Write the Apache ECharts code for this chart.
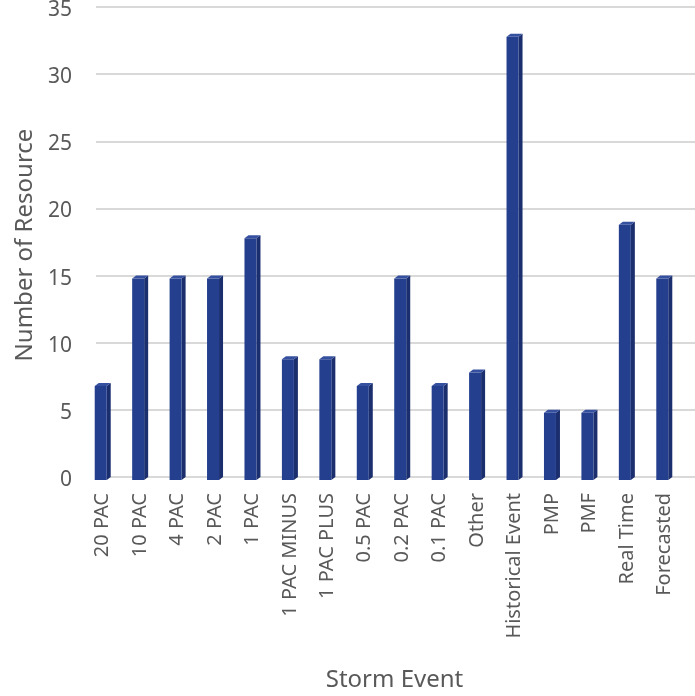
<!DOCTYPE html>
<html>
<head>
<meta charset="utf-8">
<script src="https://cdn.jsdelivr.net/npm/echarts@6/dist/echarts.min.js"></script>
<style>
  html, body { margin: 0; padding: 0; background: #ffffff; }
  #chart { width: 695px; height: 696px; }
</style>
</head>
<body>
<div id="chart"></div>
<script>
// Storm event categories and resource counts
const categories = ['20 PAC', '10 PAC', '4 PAC', '2 PAC', '1 PAC', '1 PAC MINUS', '1 PAC PLUS',
  '0.5 PAC', '0.2 PAC', '0.1 PAC', 'Other', 'Historical Event', 'PMP', 'PMF', 'Real Time', 'Forecasted'];
const resourceCounts = [7, 15, 15, 15, 18, 9, 9, 7, 15, 7, 8, 33, 5, 5, 19, 15];
const yTicks = { min: 0, max: 35, interval: 5 };

const FONT = '"Noto Sans", "Open Sans", sans-serif';
const TEXT = '#595959';

// Prism-like bar: front face, darker side face, lighter top face
function renderPrism(params, api) {
  const top = api.coord([api.value(0), api.value(1)]);
  const base = api.coord([api.value(0), 0]);
  const cx = top[0];
  const x0 = cx - 8, x1 = cx + 4;
  const d = 4, dy = 3;
  return {
    type: 'group',
    children: [
      {
        type: 'polygon',
        shape: { points: [[x1, top[1]], [x1 + d, top[1] - dy], [x1 + d, base[1] - dy], [x1, base[1]]] },
        style: { fill: '#1b2e6e' }
      },
      {
        type: 'rect',
        shape: { x: x0, y: top[1], width: x1 - x0, height: base[1] - top[1] },
        style: { fill: '#253f8f' }
      },
      {
        type: 'polygon',
        shape: { points: [[x0, top[1]], [x0 + d, top[1] - dy], [x1 + d, top[1] - dy], [x1, top[1]]] },
        style: { fill: '#3650a0' }
      }
    ]
  };
}

const chart = echarts.init(document.getElementById('chart'), null, { renderer: 'canvas' });
chart.setOption({
  animation: false,
  backgroundColor: '#ffffff',
  grid: [
    // front plane: bars, category labels and value labels
    { left: 84, right: 12, top: 10, bottom: 216, containLabel: false, outerBoundsMode: 'none' },
    // back wall: gridlines, set slightly up and to the right for depth
    { left: 96, right: 0, top: 7, bottom: 219, containLabel: false, outerBoundsMode: 'none' }
  ],
  xAxis: [
    {
      type: 'category',
      gridIndex: 0,
      data: categories,
      boundaryGap: true,
      axisLine: { show: false },
      axisTick: { show: false },
      axisLabel: { rotate: 90, margin: 13, color: TEXT, fontSize: 20, fontFamily: FONT, interval: 0 },
      name: 'Storm Event',
      nameLocation: 'middle',
      nameGap: 188,
      nameTextStyle: { color: TEXT, fontSize: 24, fontFamily: FONT, padding: [0, 0, 0, 22] }
    },
    {
      type: 'category',
      gridIndex: 1,
      data: categories,
      show: false
    }
  ],
  yAxis: [
    {
      type: 'value',
      gridIndex: 0,
      min: yTicks.min,
      max: yTicks.max,
      interval: yTicks.interval,
      axisLine: { show: false },
      axisTick: { show: false },
      axisLabel: { margin: 12, color: TEXT, fontSize: 21, fontFamily: FONT },
      splitLine: { show: false },
      name: 'Number of Resource',
      nameLocation: 'middle',
      nameGap: 46,
      nameTextStyle: { color: TEXT, fontSize: 24, fontFamily: FONT }
    },
    {
      type: 'value',
      gridIndex: 1,
      min: yTicks.min,
      max: yTicks.max,
      interval: yTicks.interval,
      axisLine: { show: false },
      axisTick: { show: false },
      axisLabel: { show: false },
      splitLine: { lineStyle: { color: '#d9d9d9', width: 2 } }
    }
  ],
  series: [{
    type: 'custom',
    xAxisIndex: 0,
    yAxisIndex: 0,
    renderItem: renderPrism,
    encode: { x: 0, y: 1 },
    data: resourceCounts.map((v, i) => [i, v])
  }]
});
</script>
</body>
</html>
